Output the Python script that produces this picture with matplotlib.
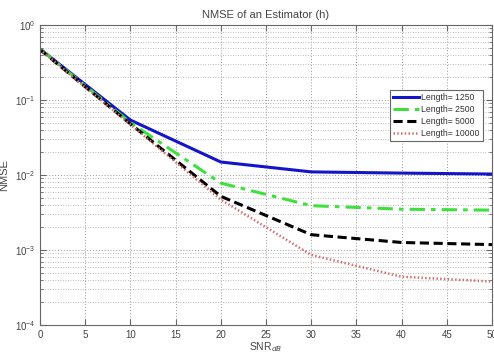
import matplotlib
matplotlib.use("Agg")
import matplotlib.pyplot as plt
from matplotlib.ticker import LogLocator, NullFormatter

snr = [0, 10, 20, 30, 40, 50]
nmse_1250 = [0.48, 0.054, 0.0149, 0.0110, 0.0106, 0.0103]
nmse_2500 = [0.48, 0.050, 0.0078, 0.0039, 0.0035, 0.0034]
nmse_5000 = [0.47, 0.048, 0.0052, 0.0016, 0.00126, 0.00118]
nmse_10000 = [0.47, 0.047, 0.0047, 0.00086, 0.00044, 0.00038]
labels = ["Length= 1250", "Length= 2500", "Length= 5000", "Length= 10000"]

plt.rcParams['font.family'] = ['Liberation Sans', 'DejaVu Sans']
fig = plt.figure(figsize=(4.94, 3.52), dpi=100)
ax = fig.add_axes([40/494, 1-325/352, 452/494, 300/352])

ax.plot(snr, nmse_1250, color='#1414c8', lw=2.2, ls='-', label=labels[0])
ax.plot(snr, nmse_2500, color='#3ee03e', lw=2.2, ls=(0, (5, 2, 1.5, 2)), label=labels[1])
ax.plot(snr, nmse_5000, color='black', lw=2.2, ls=(0, (3, 1.5)), label=labels[2])
ax.plot(snr, nmse_10000, color='#d07070', lw=1.8, ls=(0, (0.6, 0.9)), label=labels[3])

ax.set_yscale('log')
ax.set_ylim(1e-4, 1)
ax.set_xlim(0, 50)
ax.set_xticks(range(0, 51, 5))
ax.yaxis.set_major_locator(LogLocator(base=10, numticks=10))
ax.yaxis.set_minor_locator(LogLocator(base=10, subs=range(2, 10), numticks=20))
ax.yaxis.set_minor_formatter(NullFormatter())

ax.grid(True, which='major', ls=(0, (1, 2)), color='#999999', lw=0.7)
ax.grid(True, which='minor', axis='y', ls=(0, (1, 2)), color='#a8a8a8', lw=0.6)
ax.tick_params(which='both', direction='in', top=True, right=True, labelsize=7, colors='#666666', labelcolor='#444444')
ax.tick_params(which='major', length=4)
ax.tick_params(which='minor', length=2)
for s in ax.spines.values():
    s.set_color('#666666')
    s.set_linewidth(0.8)

ax.set_title("NMSE of an Estimator (h)", fontsize=8, color='#444444', pad=5)
ax.set_xlabel("SNR$_{dB}$", fontsize=7.5, color='#444444', labelpad=0)
ax.set_ylabel("NMSE", fontsize=8, color='#444444', labelpad=4)

leg = ax.legend(loc='upper left', bbox_to_anchor=(0.774, 0.785), fontsize=6.2,
                frameon=True, fancybox=False, edgecolor='#666666', framealpha=1,
                handlelength=3.0, handletextpad=0.2, borderpad=0.4, labelspacing=0.35,
                borderaxespad=0)
leg.get_frame().set_linewidth(0.8)
for t in leg.get_texts():
    t.set_color('#333333')

fig.savefig("out.png", dpi=100)
